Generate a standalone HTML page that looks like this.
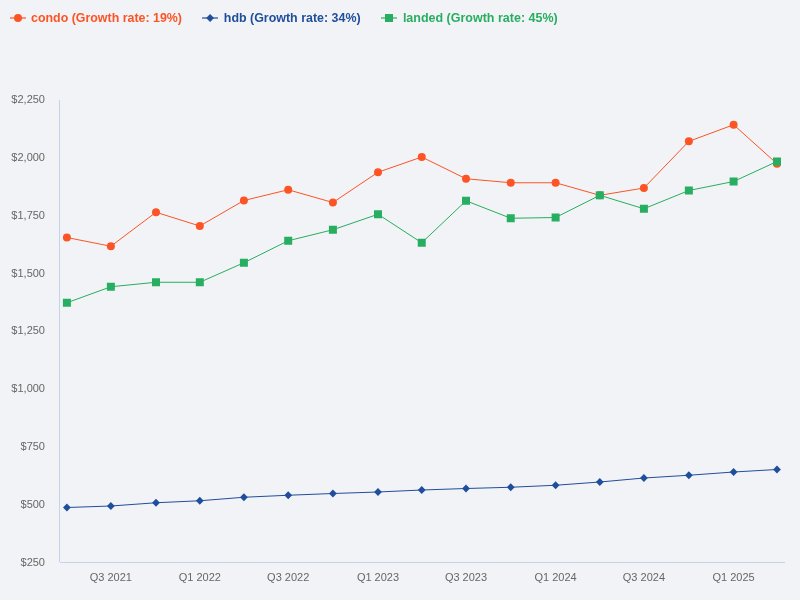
<!DOCTYPE html>
<html><head><meta charset="utf-8"><title>Chart</title>
<style>
html,body{margin:0;padding:0;background:#f2f3f6;width:800px;height:600px;overflow:hidden}
svg{display:block;will-change:transform}
text{font-family:"Liberation Sans",Arial,sans-serif}
</style></head><body>
<svg width="800" height="600" viewBox="0 0 800 600">
<rect x="0" y="0" width="800" height="600" fill="#f2f3f6"/>
<g font-weight="bold" font-size="13">
<line x1="10" y1="18" x2="26" y2="18" stroke="#fc5424" stroke-opacity="0.6" stroke-width="2"/>
<circle cx="18" cy="18" r="4" fill="#fc5424"/>
<text x="31" y="22" fill="#fc5424" textLength="151" lengthAdjust="spacingAndGlyphs">condo (Growth rate: 19%)</text>
<line x1="202" y1="18" x2="218" y2="18" stroke="#1f4e9c" stroke-opacity="0.6" stroke-width="2"/>
<path d="M210.1 14.1 L214 18 L210.1 21.9 L206.2 18Z" fill="#1f4e9c"/>
<text x="223.8" y="22" fill="#1f4e9c" textLength="136.8" lengthAdjust="spacingAndGlyphs">hdb (Growth rate: 34%)</text>
<line x1="381" y1="18" x2="397" y2="18" stroke="#27ae60" stroke-opacity="0.6" stroke-width="2"/>
<rect x="385" y="14" width="8" height="8" fill="#27ae60"/>
<text x="402.9" y="22" fill="#27ae60" textLength="154.8" lengthAdjust="spacingAndGlyphs">landed (Growth rate: 45%)</text>
</g>
<line x1="59.5" y1="100" x2="59.5" y2="562" stroke="#c5d3ea" stroke-width="1"/>
<line x1="60" y1="562.5" x2="785" y2="562.5" stroke="#c5d3ea" stroke-width="1"/>
<g font-size="11" fill="#666666" text-anchor="end">
<text x="45" y="565.70">$250</text>
<text x="45" y="507.89">$500</text>
<text x="45" y="450.07">$750</text>
<text x="45" y="392.26">$1,000</text>
<text x="45" y="334.45">$1,250</text>
<text x="45" y="276.64">$1,500</text>
<text x="45" y="218.82">$1,750</text>
<text x="45" y="161.01">$2,000</text>
<text x="45" y="103.20">$2,250</text>
</g>
<g font-size="11" fill="#666666" text-anchor="middle">
<text x="110.86" y="581">Q3 2021</text>
<text x="199.80" y="581">Q1 2022</text>
<text x="288.20" y="581">Q3 2022</text>
<text x="378.00" y="581">Q1 2023</text>
<text x="466.00" y="581">Q3 2023</text>
<text x="555.60" y="581">Q1 2024</text>
<text x="643.90" y="581">Q3 2024</text>
<text x="733.60" y="581">Q1 2025</text>
</g>
<polyline points="66.90,237.50 110.86,246.25 156.00,212.25 199.80,226.00 243.90,200.50 288.20,189.75 332.90,202.50 378.00,172.25 421.75,157.00 466.00,178.75 510.75,182.75 555.60,182.75 599.80,195.30 643.90,188.00 688.85,141.35 733.60,124.75 777.00,163.75" fill="none" stroke="#fc5424" stroke-width="1"/>
<circle cx="66.90" cy="237.50" r="4" fill="#fc5424"/><circle cx="110.86" cy="246.25" r="4" fill="#fc5424"/><circle cx="156.00" cy="212.25" r="4" fill="#fc5424"/><circle cx="199.80" cy="226.00" r="4" fill="#fc5424"/><circle cx="243.90" cy="200.50" r="4" fill="#fc5424"/><circle cx="288.20" cy="189.75" r="4" fill="#fc5424"/><circle cx="332.90" cy="202.50" r="4" fill="#fc5424"/><circle cx="378.00" cy="172.25" r="4" fill="#fc5424"/><circle cx="421.75" cy="157.00" r="4" fill="#fc5424"/><circle cx="466.00" cy="178.75" r="4" fill="#fc5424"/><circle cx="510.75" cy="182.75" r="4" fill="#fc5424"/><circle cx="555.60" cy="182.75" r="4" fill="#fc5424"/><circle cx="599.80" cy="195.30" r="4" fill="#fc5424"/><circle cx="643.90" cy="188.00" r="4" fill="#fc5424"/><circle cx="688.85" cy="141.35" r="4" fill="#fc5424"/><circle cx="733.60" cy="124.75" r="4" fill="#fc5424"/><circle cx="777.00" cy="163.75" r="4" fill="#fc5424"/>
<polyline points="66.90,507.50 110.86,506.00 156.00,502.75 199.80,500.75 243.90,497.25 288.20,495.25 332.90,493.50 378.00,492.00 421.75,490.00 466.00,488.50 510.75,487.25 555.60,485.25 599.80,482.00 643.90,478.00 688.85,475.25 733.60,472.00 777.00,469.50" fill="none" stroke="#1f4e9c" stroke-width="1"/>
<path d="M66.90 503.60 L70.80 507.50 L66.90 511.40 L63.00 507.50Z" fill="#1f4e9c"/><path d="M110.86 502.10 L114.76 506.00 L110.86 509.90 L106.96 506.00Z" fill="#1f4e9c"/><path d="M156.00 498.85 L159.90 502.75 L156.00 506.65 L152.10 502.75Z" fill="#1f4e9c"/><path d="M199.80 496.85 L203.70 500.75 L199.80 504.65 L195.90 500.75Z" fill="#1f4e9c"/><path d="M243.90 493.35 L247.80 497.25 L243.90 501.15 L240.00 497.25Z" fill="#1f4e9c"/><path d="M288.20 491.35 L292.10 495.25 L288.20 499.15 L284.30 495.25Z" fill="#1f4e9c"/><path d="M332.90 489.60 L336.80 493.50 L332.90 497.40 L329.00 493.50Z" fill="#1f4e9c"/><path d="M378.00 488.10 L381.90 492.00 L378.00 495.90 L374.10 492.00Z" fill="#1f4e9c"/><path d="M421.75 486.10 L425.65 490.00 L421.75 493.90 L417.85 490.00Z" fill="#1f4e9c"/><path d="M466.00 484.60 L469.90 488.50 L466.00 492.40 L462.10 488.50Z" fill="#1f4e9c"/><path d="M510.75 483.35 L514.65 487.25 L510.75 491.15 L506.85 487.25Z" fill="#1f4e9c"/><path d="M555.60 481.35 L559.50 485.25 L555.60 489.15 L551.70 485.25Z" fill="#1f4e9c"/><path d="M599.80 478.10 L603.70 482.00 L599.80 485.90 L595.90 482.00Z" fill="#1f4e9c"/><path d="M643.90 474.10 L647.80 478.00 L643.90 481.90 L640.00 478.00Z" fill="#1f4e9c"/><path d="M688.85 471.35 L692.75 475.25 L688.85 479.15 L684.95 475.25Z" fill="#1f4e9c"/><path d="M733.60 468.10 L737.50 472.00 L733.60 475.90 L729.70 472.00Z" fill="#1f4e9c"/><path d="M777.00 465.60 L780.90 469.50 L777.00 473.40 L773.10 469.50Z" fill="#1f4e9c"/>
<polyline points="66.90,302.75 110.86,286.75 156.00,282.25 199.80,282.25 243.90,262.75 288.20,240.75 332.90,229.75 378.00,214.25 421.75,242.75 466.00,200.75 510.75,218.25 555.60,217.50 599.80,195.30 643.90,208.75 688.85,190.50 733.60,181.50 777.00,161.50" fill="none" stroke="#27ae60" stroke-width="1"/>
<rect x="62.90" y="298.75" width="8" height="8" fill="#27ae60"/><rect x="106.86" y="282.75" width="8" height="8" fill="#27ae60"/><rect x="152.00" y="278.25" width="8" height="8" fill="#27ae60"/><rect x="195.80" y="278.25" width="8" height="8" fill="#27ae60"/><rect x="239.90" y="258.75" width="8" height="8" fill="#27ae60"/><rect x="284.20" y="236.75" width="8" height="8" fill="#27ae60"/><rect x="328.90" y="225.75" width="8" height="8" fill="#27ae60"/><rect x="374.00" y="210.25" width="8" height="8" fill="#27ae60"/><rect x="417.75" y="238.75" width="8" height="8" fill="#27ae60"/><rect x="462.00" y="196.75" width="8" height="8" fill="#27ae60"/><rect x="506.75" y="214.25" width="8" height="8" fill="#27ae60"/><rect x="551.60" y="213.50" width="8" height="8" fill="#27ae60"/><rect x="595.80" y="191.30" width="8" height="8" fill="#27ae60"/><rect x="639.90" y="204.75" width="8" height="8" fill="#27ae60"/><rect x="684.85" y="186.50" width="8" height="8" fill="#27ae60"/><rect x="729.60" y="177.50" width="8" height="8" fill="#27ae60"/><rect x="773.00" y="157.50" width="8" height="8" fill="#27ae60"/>
</svg>
</body></html>
